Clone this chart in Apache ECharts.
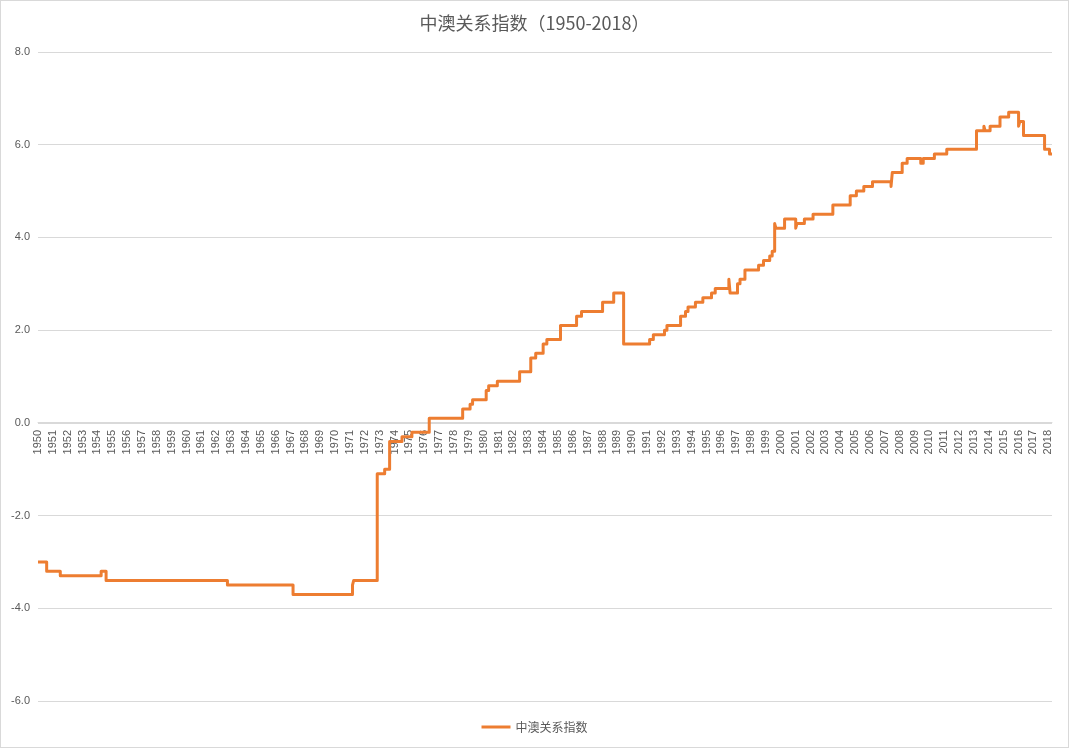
<!DOCTYPE html>
<html>
<head>
<meta charset="utf-8">
<script src="https://cdn.jsdelivr.net/npm/echarts@6/dist/echarts.min.js"></script>
<style>
html,body{margin:0;padding:0;background:#fff;}
#chart{position:absolute;left:0;top:0;width:1069px;height:748px;box-sizing:border-box;border:1px solid #d9d9d9;}
</style>
</head>
<body>
<div id="chart"></div>
<script>
// Month at which the index changes, and the value it takes from that month on
const changeMonths = [
  '1950-01','1950-08','1951-07','1954-04','1954-08','1962-10','1967-03','1971-03','1971-04',
  '1972-11','1973-05','1973-09','1974-07','1975-03','1976-05','1978-08','1979-02','1979-04',
  '1980-03','1980-05','1980-12','1982-06','1983-03','1983-07','1984-01','1984-04','1985-03',
  '1986-04','1986-08','1988-01','1988-10','1989-06','1991-03','1991-06','1992-03','1992-05',
  '1993-04','1993-08','1993-10','1994-04','1994-10','1995-05','1995-08','1996-07','1996-08',
  '1997-02','1997-04','1997-08','1998-07','1998-11','1999-04','1999-06','1999-08','1999-09',
  '2000-04','2001-01','2001-02','2001-08','2002-03','2003-07','2004-09','2005-02','2005-08',
  '2006-03','2007-06','2007-07','2008-03','2008-07','2009-06','2009-08','2010-05','2011-03',
  '2013-03','2013-09','2013-10','2014-02','2014-10','2015-05','2016-01','2016-02','2016-05',
  '2017-10','2018-02','2018-04'
];
const indexValues = [
  -3.0,-3.2,-3.3,-3.2,-3.4,-3.5,-3.7,-3.5,-3.4,
  -1.1,-1.0,-0.4,-0.3,-0.2,0.1,0.3,0.4,0.5,
  0.7,0.8,0.9,1.1,1.4,1.5,1.7,1.8,2.1,
  2.3,2.4,2.6,2.8,1.7,1.8,1.9,2.0,2.1,
  2.3,2.4,2.5,2.6,2.7,2.8,2.9,3.1,2.8,
  3.0,3.1,3.3,3.4,3.5,3.6,3.7,4.3,4.2,
  4.4,4.2,4.3,4.4,4.5,4.7,4.9,5.0,5.1,
  5.2,5.1,5.4,5.6,5.7,5.6,5.7,5.8,5.9,
  6.3,6.4,6.3,6.4,6.6,6.7,6.4,6.5,6.2,
  5.9,5.8,5.8
];
const seriesName = '中澳关系指数';
const titleText = '中澳关系指数（1950-2018）';
const yTicks = [-6, -4, -2, 0, 2, 4, 6, 8];
const firstYear = 1950;

function toYear(m) {
  const p = m.split('-');
  return Number(p[0]) + (Number(p[1]) - 1) / 12;
}
const seriesData = changeMonths.map((m, i) => [toYear(m), indexValues[i]]);
const lastX = toYear(changeMonths[changeMonths.length - 1]);

const H = 748;
const gridTop = 51, gridBottom = 46;
const yMin = yTicks[0], yMax = yTicks[yTicks.length - 1];
const plotH = H - gridTop - gridBottom;
// place the x axis on the zero line (as in the reference)
const zeroOffset = -((0 - yMin) / (yMax - yMin)) * plotH;

const chart = echarts.init(document.getElementById('chart'), null, {renderer: 'canvas'});
chart.setOption({
  animation: false,
  title: {
    text: titleText,
    left: 'center',
    top: 8,
    textStyle: {fontFamily: 'Noto Sans CJK SC', fontSize: 18, fontWeight: 'normal', color: '#595959'}
  },
  legend: {
    data: [seriesName],
    bottom: 9,
    left: 'center',
    itemWidth: 29,
    itemHeight: 3,
    icon: 'rect',
    textStyle: {fontFamily: 'Noto Sans CJK SC', fontSize: 12, color: '#595959'}
  },
  grid: {left: 37, right: 16, top: gridTop, bottom: gridBottom, containLabel: false},
  xAxis: {
    type: 'value',
    min: firstYear,
    max: lastX,
    interval: 1,
    offset: zeroOffset,
    axisLine: {onZero: false, lineStyle: {color: '#d9d9d9', width: 1}},
    axisTick: {show: false},
    splitLine: {show: false},
    axisLabel: {
      rotate: 90,
      margin: 8,
      fontFamily: 'Liberation Sans',
      fontSize: 11,
      color: '#595959',
      showMaxLabel: true,
      formatter: v => (Math.abs(v - Math.round(v)) < 1e-6 ? String(Math.round(v)) : '')
    }
  },
  yAxis: {
    type: 'value',
    min: yMin,
    max: yMax,
    interval: 2,
    axisLine: {show: false},
    axisTick: {show: false},
    splitLine: {lineStyle: {color: '#d9d9d9', width: 1}},
    axisLabel: {
      margin: 8,
      fontFamily: 'Liberation Sans',
      fontSize: 11,
      color: '#595959',
      formatter: v => v.toFixed(1)
    }
  },
  series: [{
    name: seriesName,
    type: 'line',
    step: 'end',
    data: seriesData,
    showSymbol: false,
    symbol: 'none',
    color: '#ED7D31',
    lineStyle: {color: '#ED7D31', width: 3, join: 'round'}
  }]
});
</script>
</body>
</html>
